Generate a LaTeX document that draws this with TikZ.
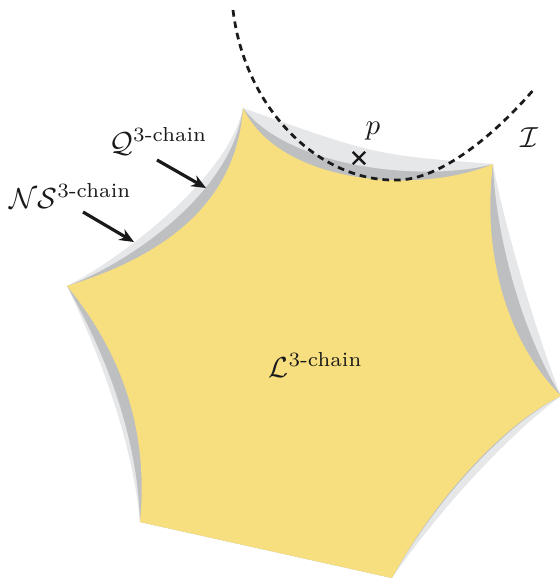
\documentclass[tikz,border=0pt]{standalone}
\usepackage{amsmath}
\usetikzlibrary{arrows.meta,shapes.misc}
\definecolor{nsgray}{HTML}{E6E7E9}
\definecolor{qgray}{HTML}{BEBFC1}
\definecolor{lyellow}{HTML}{F7DF7F}
\definecolor{inkc}{HTML}{1A1A1A}
\begin{document}
\begin{tikzpicture}[x=0.345pt,y=-0.345pt,
  pointer/.style={draw=inkc,line width=1.1pt,-{Stealth[length=5pt,width=4.2pt]}},
  boundary/.style={draw=inkc,line width=0.95pt,dash pattern=on 2.3pt off 1.7pt},
  lbl/.style={inner sep=0pt,text=inkc},
  xmark/.style={cross out,draw=inkc,line width=0.85pt,minimum size=3.4pt,inner sep=0pt}]
\useasboundingbox (0,0) rectangle (560,578);
\coordinate (V1) at (243,108);
\coordinate (V2) at (493,164);
\coordinate (V3) at (561,396);
\coordinate (V4) at (392,578);
\coordinate (V5) at (140,522);
\coordinate (V6) at (67,286);
% NS region
\fill[nsgray] (V1) .. controls (375,155) .. (V2)
  .. controls (503,220) and (535,330) .. (V3)
  .. controls (516,429) and (448,498) .. (V4) -- (V5)
  .. controls (133,450) and (107,370) .. (V6)
  .. controls (115,262) and (228,180) .. (V1) -- cycle;
% Q region
\fill[qgray] (V1) .. controls (290,170) and (430,182) .. (V2)
  .. controls (495,230) and (520,330) .. (V3)
  .. controls (511,421) and (441,491) .. (V4) -- (V5)
  .. controls (138,450) and (115,370) .. (V6)
  .. controls (125,265) and (232,195) .. (V1) -- cycle;
% L region
\fill[lyellow] (V1) .. controls (280,185) and (420,195) .. (V2)
  .. controls (482,250) and (505,340) .. (V3)
  .. controls (510,420) and (440,490) .. (V4) -- (V5)
  .. controls (148,440) and (128,360) .. (V6)
  .. controls (145,262) and (236,215) .. (V1) -- cycle;
% curve I
\coordinate (I1) at (233,10);
\coordinate (I2) at (397,180);
\coordinate (I3) at (535,88);
\draw[boundary] (I1) .. controls (245,110) and (320,182) .. (I2)
  .. controls (440,180) and (495,135) .. (I3);
% point p
\node[xmark] (p) at (359,158) {};
\node[lbl] (plabel) at (373,131) {$p$};
\node[lbl] (Ilabel) at (529,138) {$\mathcal{I}$};
% labels
\node[lbl,anchor=base west] (Qlabel) at (109,152) {$\mathcal{Q}^{3\text{-chain}}$};
\node[lbl,anchor=base west] (NSlabel) at (9,208) {$\mathcal{N}\mathcal{S}^{3\text{-chain}}$};
\node[lbl,anchor=base west] (Llabel) at (268,377) {$\mathcal{L}^{3\text{-chain}}$};
% arrows
\coordinate (qT) at (157,160);
\coordinate (qH) at (206,188);
\coordinate (nsT) at (83,212);
\coordinate (nsH) at (134,242);
\draw[pointer] (qT) -- (qH);
\draw[pointer] (nsT) -- (nsH);
\end{tikzpicture}
\end{document}
